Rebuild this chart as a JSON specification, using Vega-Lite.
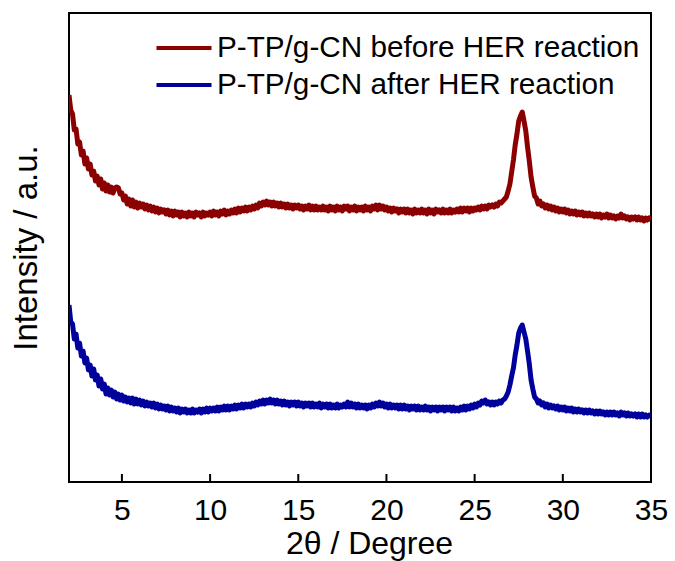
{
  "$schema": "https://vega.github.io/schema/vega-lite/v6.json",
  "width": 582,
  "height": 469,
  "autosize": "none",
  "padding": {"left": 69, "top": 13, "right": 24, "bottom": 79},
  "background": "white",
  "config": {
    "font": "Liberation Sans",
    "view": {"stroke": "#000000", "strokeWidth": 2},
    "axis": {"grid": false, "domain": false, "labelColor": "#000", "titleColor": "#000", "titleFontWeight": "normal"}
  },
  "layer": [
    {
      "data": {
        "values": [
{"t":2.0,"b":387,"a":177},{"t":2.1,"b":372,"a":160},{"t":2.2,"b":368,"a":158},{"t":2.3,"b":352,"a":143},{"t":2.4,"b":353,"a":148},
{"t":2.5,"b":338,"a":134},{"t":2.6,"b":340,"a":139},{"t":2.7,"b":327,"a":126},{"t":2.8,"b":331,"a":131},{"t":2.9,"b":318,"a":119},
{"t":3.0,"b":324,"a":124},{"t":3.1,"b":313,"a":112},{"t":3.2,"b":318,"a":117},{"t":3.3,"b":307,"a":106},{"t":3.4,"b":311,"a":113},
{"t":3.5,"b":301,"a":102},{"t":3.6,"b":306,"a":107},{"t":3.7,"b":297,"a":96},{"t":3.8,"b":303,"a":103},{"t":3.9,"b":293,"a":93},
{"t":4.0,"b":299,"a":98},{"t":4.1,"b":291,"a":88},{"t":4.2,"b":297,"a":94},{"t":4.3,"b":290,"a":87},{"t":4.4,"b":295,"a":92},
{"t":4.5,"b":289,"a":85},{"t":4.6,"b":294,"a":90},{"t":4.7,"b":295,"a":83},{"t":4.8,"b":294,"a":88},{"t":4.9,"b":288,"a":82},
{"t":5.0,"b":289,"a":87},{"t":5.1,"b":282,"a":81},{"t":5.2,"b":286,"a":85},{"t":5.3,"b":278,"a":80},{"t":5.4,"b":283,"a":84},
{"t":5.5,"b":276,"a":79},{"t":5.6,"b":282,"a":84},{"t":5.7,"b":275,"a":78},{"t":5.8,"b":280,"a":83},{"t":5.9,"b":274,"a":78},
{"t":6.0,"b":279,"a":82},{"t":6.1,"b":275,"a":77},{"t":6.2,"b":278,"a":81},{"t":6.3,"b":273,"a":76},{"t":6.4,"b":277,"a":80},
{"t":6.5,"b":272,"a":76},{"t":6.6,"b":276,"a":79},{"t":6.7,"b":271,"a":75},{"t":6.8,"b":275,"a":79},{"t":6.9,"b":270,"a":74},
{"t":7.0,"b":274,"a":78},{"t":7.1,"b":269,"a":73},{"t":7.2,"b":273,"a":77},{"t":7.3,"b":270,"a":73},{"t":7.4,"b":272,"a":76},
{"t":7.5,"b":268,"a":72},{"t":7.6,"b":272,"a":76},{"t":7.7,"b":267,"a":71},{"t":7.8,"b":271,"a":75},{"t":7.9,"b":266,"a":71},
{"t":8.0,"b":271,"a":74},{"t":8.1,"b":267,"a":70},{"t":8.2,"b":270,"a":74},{"t":8.3,"b":265,"a":69},{"t":8.4,"b":270,"a":73},
{"t":8.5,"b":266,"a":70},{"t":8.6,"b":269,"a":73},{"t":8.7,"b":265,"a":69},{"t":8.8,"b":270,"a":72},{"t":8.9,"b":266,"a":69},
{"t":9.0,"b":269,"a":73},{"t":9.1,"b":265,"a":69},{"t":9.2,"b":270,"a":72},{"t":9.3,"b":267,"a":70},{"t":9.4,"b":269,"a":73},
{"t":9.5,"b":265,"a":69},{"t":9.6,"b":270,"a":73},{"t":9.7,"b":266,"a":70},{"t":9.8,"b":269,"a":74},{"t":9.9,"b":267,"a":70},
{"t":10.0,"b":270,"a":74},{"t":10.1,"b":266,"a":71},{"t":10.2,"b":271,"a":74},{"t":10.3,"b":267,"a":71},{"t":10.4,"b":270,"a":75},
{"t":10.5,"b":266,"a":71},{"t":10.6,"b":271,"a":75},{"t":10.7,"b":268,"a":72},{"t":10.8,"b":272,"a":76},{"t":10.9,"b":267,"a":72},
{"t":11.0,"b":271,"a":76},{"t":11.1,"b":268,"a":72},{"t":11.2,"b":272,"a":76},{"t":11.3,"b":269,"a":73},{"t":11.4,"b":273,"a":77},
{"t":11.5,"b":269,"a":73},{"t":11.6,"b":274,"a":77},{"t":11.7,"b":270,"a":74},{"t":11.8,"b":274,"a":78},{"t":11.9,"b":271,"a":74},
{"t":12.0,"b":275,"a":78},{"t":12.1,"b":271,"a":75},{"t":12.2,"b":275,"a":78},{"t":12.3,"b":272,"a":75},{"t":12.4,"b":276,"a":79},
{"t":12.5,"b":273,"a":76},{"t":12.6,"b":277,"a":80},{"t":12.7,"b":274,"a":77},{"t":12.8,"b":279,"a":81},{"t":12.9,"b":276,"a":78},
{"t":13.0,"b":280,"a":82},{"t":13.1,"b":277,"a":78},{"t":13.2,"b":281,"a":82},{"t":13.3,"b":277,"a":79},{"t":13.4,"b":280,"a":83},
{"t":13.5,"b":276,"a":79},{"t":13.6,"b":280,"a":82},{"t":13.7,"b":276,"a":78},{"t":13.8,"b":279,"a":82},{"t":13.9,"b":275,"a":78},
{"t":14.0,"b":279,"a":81},{"t":14.1,"b":275,"a":77},{"t":14.2,"b":278,"a":81},{"t":14.3,"b":274,"a":77},{"t":14.4,"b":278,"a":80},
{"t":14.5,"b":274,"a":76},{"t":14.6,"b":277,"a":80},{"t":14.7,"b":273,"a":77},{"t":14.8,"b":277,"a":80},{"t":14.9,"b":274,"a":76},
{"t":15.0,"b":277,"a":80},{"t":15.1,"b":273,"a":76},{"t":15.2,"b":276,"a":79},{"t":15.3,"b":272,"a":75},{"t":15.4,"b":276,"a":79},
{"t":15.5,"b":273,"a":76},{"t":15.6,"b":277,"a":79},{"t":15.7,"b":272,"a":75},{"t":15.8,"b":276,"a":79},{"t":15.9,"b":272,"a":75},
{"t":16.0,"b":276,"a":78},{"t":16.1,"b":272,"a":75},{"t":16.2,"b":275,"a":79},{"t":16.3,"b":272,"a":74},{"t":16.4,"b":276,"a":78},
{"t":16.5,"b":272,"a":75},{"t":16.6,"b":275,"a":78},{"t":16.7,"b":271,"a":74},{"t":16.8,"b":276,"a":78},{"t":16.9,"b":272,"a":74},
{"t":17.0,"b":275,"a":77},{"t":17.1,"b":271,"a":74},{"t":17.2,"b":276,"a":78},{"t":17.3,"b":272,"a":74},{"t":17.4,"b":275,"a":77},
{"t":17.5,"b":271,"a":75},{"t":17.6,"b":276,"a":78},{"t":17.7,"b":273,"a":75},{"t":17.8,"b":276,"a":80},{"t":17.9,"b":271,"a":75},
{"t":18.0,"b":275,"a":79},{"t":18.1,"b":272,"a":75},{"t":18.2,"b":276,"a":78},{"t":18.3,"b":271,"a":74},{"t":18.4,"b":275,"a":78},
{"t":18.5,"b":272,"a":74},{"t":18.6,"b":275,"a":77},{"t":18.7,"b":271,"a":74},{"t":18.8,"b":276,"a":77},{"t":18.9,"b":272,"a":73},
{"t":19.0,"b":275,"a":77},{"t":19.1,"b":271,"a":74},{"t":19.2,"b":276,"a":78},{"t":19.3,"b":273,"a":75},{"t":19.4,"b":277,"a":79},
{"t":19.5,"b":272,"a":76},{"t":19.6,"b":277,"a":80},{"t":19.7,"b":273,"a":76},{"t":19.8,"b":276,"a":79},{"t":19.9,"b":272,"a":75},
{"t":20.0,"b":275,"a":78},{"t":20.1,"b":271,"a":74},{"t":20.2,"b":274,"a":78},{"t":20.3,"b":270,"a":74},{"t":20.4,"b":274,"a":77},
{"t":20.5,"b":271,"a":74},{"t":20.6,"b":273,"a":77},{"t":20.7,"b":269,"a":73},{"t":20.8,"b":273,"a":77},{"t":20.9,"b":270,"a":73},
{"t":21.0,"b":273,"a":77},{"t":21.1,"b":269,"a":73},{"t":21.2,"b":273,"a":76},{"t":21.3,"b":269,"a":72},{"t":21.4,"b":272,"a":76},
{"t":21.5,"b":268,"a":73},{"t":21.6,"b":273,"a":76},{"t":21.7,"b":269,"a":72},{"t":21.8,"b":272,"a":76},{"t":21.9,"b":269,"a":72},
{"t":22.0,"b":273,"a":75},{"t":22.1,"b":269,"a":72},{"t":22.2,"b":272,"a":76},{"t":22.3,"b":268,"a":72},{"t":22.4,"b":273,"a":75},
{"t":22.5,"b":269,"a":71},{"t":22.6,"b":272,"a":75},{"t":22.7,"b":268,"a":72},{"t":22.8,"b":273,"a":75},{"t":22.9,"b":270,"a":71},
{"t":23.0,"b":272,"a":75},{"t":23.1,"b":269,"a":72},{"t":23.2,"b":273,"a":75},{"t":23.3,"b":269,"a":71},{"t":23.4,"b":272,"a":75},
{"t":23.5,"b":269,"a":72},{"t":23.6,"b":273,"a":75},{"t":23.7,"b":269,"a":71},{"t":23.8,"b":272,"a":75},{"t":23.9,"b":270,"a":71},
{"t":24.0,"b":273,"a":74},{"t":24.1,"b":270,"a":71},{"t":24.2,"b":274,"a":75},{"t":24.3,"b":270,"a":72},{"t":24.4,"b":274,"a":76},
{"t":24.5,"b":271,"a":72},{"t":24.6,"b":274,"a":76},{"t":24.7,"b":270,"a":73},{"t":24.8,"b":274,"a":77},{"t":24.9,"b":271,"a":74},
{"t":25.0,"b":274,"a":78},{"t":25.1,"b":272,"a":75},{"t":25.2,"b":275,"a":79},{"t":25.3,"b":272,"a":77},{"t":25.4,"b":276,"a":81},
{"t":25.5,"b":273,"a":79},{"t":25.6,"b":276,"a":82},{"t":25.7,"b":273,"a":78},{"t":25.8,"b":277,"a":80},{"t":25.9,"b":275,"a":77},
{"t":26.0,"b":277,"a":80},{"t":26.1,"b":275,"a":77},{"t":26.2,"b":278,"a":80},{"t":26.3,"b":276,"a":78},{"t":26.4,"b":280,"a":81},
{"t":26.5,"b":279,"a":79},{"t":26.6,"b":281,"a":82},{"t":26.7,"b":283,"a":83},{"t":26.8,"b":285,"a":86},{"t":26.9,"b":291,"a":90},
{"t":27.0,"b":298,"a":97},{"t":27.1,"b":310,"a":106},{"t":27.2,"b":322,"a":114},{"t":27.3,"b":337,"a":127},{"t":27.4,"b":348,"a":137},
{"t":27.5,"b":361,"a":149},{"t":27.6,"b":366,"a":154},{"t":27.7,"b":370,"a":157},{"t":27.8,"b":361,"a":150},{"t":27.9,"b":351,"a":143},
{"t":28.0,"b":335,"a":131},{"t":28.1,"b":321,"a":118},{"t":28.2,"b":305,"a":102},{"t":28.3,"b":295,"a":93},{"t":28.4,"b":286,"a":85},
{"t":28.5,"b":284,"a":83},{"t":28.6,"b":278,"a":79},{"t":28.7,"b":281,"a":81},{"t":28.8,"b":276,"a":77},{"t":28.9,"b":278,"a":79},
{"t":29.0,"b":274,"a":75},{"t":29.1,"b":277,"a":78},{"t":29.2,"b":273,"a":74},{"t":29.3,"b":276,"a":77},{"t":29.4,"b":272,"a":74},
{"t":29.5,"b":275,"a":76},{"t":29.6,"b":271,"a":73},{"t":29.7,"b":274,"a":76},{"t":29.8,"b":270,"a":72},{"t":29.9,"b":273,"a":75},
{"t":30.0,"b":270,"a":72},{"t":30.1,"b":273,"a":75},{"t":30.2,"b":269,"a":71},{"t":30.3,"b":272,"a":74},{"t":30.4,"b":268,"a":71},
{"t":30.5,"b":271,"a":74},{"t":30.6,"b":268,"a":70},{"t":30.7,"b":271,"a":73},{"t":30.8,"b":267,"a":70},{"t":30.9,"b":270,"a":73},
{"t":31.0,"b":267,"a":70},{"t":31.1,"b":270,"a":72},{"t":31.2,"b":266,"a":69},{"t":31.3,"b":269,"a":72},{"t":31.4,"b":266,"a":69},
{"t":31.5,"b":269,"a":72},{"t":31.6,"b":266,"a":69},{"t":31.7,"b":268,"a":71},{"t":31.8,"b":265,"a":68},{"t":31.9,"b":268,"a":71},
{"t":32.0,"b":265,"a":68},{"t":32.1,"b":268,"a":71},{"t":32.2,"b":264,"a":68},{"t":32.3,"b":267,"a":70},{"t":32.4,"b":265,"a":67},
{"t":32.5,"b":268,"a":70},{"t":32.6,"b":264,"a":67},{"t":32.7,"b":267,"a":70},{"t":32.8,"b":264,"a":67},{"t":32.9,"b":266,"a":70},
{"t":33.0,"b":263,"a":67},{"t":33.1,"b":266,"a":69},{"t":33.2,"b":264,"a":66},{"t":33.3,"b":268,"a":70},{"t":33.4,"b":264,"a":67},
{"t":33.5,"b":266,"a":69},{"t":33.6,"b":263,"a":66},{"t":33.7,"b":265,"a":69},{"t":33.8,"b":262,"a":66},{"t":33.9,"b":265,"a":68},
{"t":34.0,"b":263,"a":66},{"t":34.1,"b":265,"a":68},{"t":34.2,"b":262,"a":65},{"t":34.3,"b":265,"a":68},{"t":34.4,"b":262,"a":65},
{"t":34.5,"b":264,"a":68},{"t":34.6,"b":261,"a":65},{"t":34.7,"b":264,"a":67},{"t":34.8,"b":262,"a":65},{"t":34.9,"b":264,"a":67},
{"t":35.0,"b":262,"a":66}
        ]
      },
      "transform": [{"fold": ["b", "a"], "as": ["series", "intensity"]}],
      "mark": {"type": "line", "strokeWidth": 5, "strokeJoin": "round", "clip": true},
      "encoding": {
        "x": {
          "field": "t", "type": "quantitative",
          "scale": {"domain": [2, 35], "nice": false, "zero": false},
          "axis": {
            "title": "2θ / Degree", "values": [5, 10, 15, 20, 25, 30, 35],
            "ticks": false,
            "labelFontSize": 30, "labelPadding": 13, "labelFlush": false, "labelOverlap": false,
            "titleFontSize": 32, "titlePadding": 3, "titleX": 300
          }
        },
        "y": {
          "field": "intensity", "type": "quantitative",
          "scale": {"domain": [0, 469], "nice": false},
          "axis": {
            "title": "Intensity / a.u.", "ticks": false, "labels": false,
            "titleFontSize": 33, "titlePadding": 26
          }
        },
        "color": {
          "field": "series", "type": "nominal",
          "scale": {"domain": ["b", "a"], "range": ["#8B0000", "#00009C"]},
          "legend": {
            "title": null, "orient": "none", "legendX": 99, "legendY": 19,
            "symbolType": "M-2,0H2", "symbolSize": 756, "symbolStrokeWidth": 4,
            "symbolFillColor": "transparent",
            "labelFontSize": 29.7, "labelColor": "#000", "labelOffset": 17, "labelLimit": 600,
            "padding": 0, "rowPadding": 6,
            "labelExpr": "datum.value == 'b' ? 'P-TP/g-CN before HER reaction' : 'P-TP/g-CN after HER reaction'"
          }
        }
      }
    },
    {
      "data": {"values": [{"tick": 5}, {"tick": 10}, {"tick": 15}, {"tick": 20}, {"tick": 25}, {"tick": 30}]},
      "mark": {"type": "rule", "stroke": "#000000", "strokeWidth": 2, "opacity": 1},
      "encoding": {
        "x": {"field": "tick", "type": "quantitative"},
        "y": {"datum": 0},
        "y2": {"datum": 8}
      }
    }
  ]
}
